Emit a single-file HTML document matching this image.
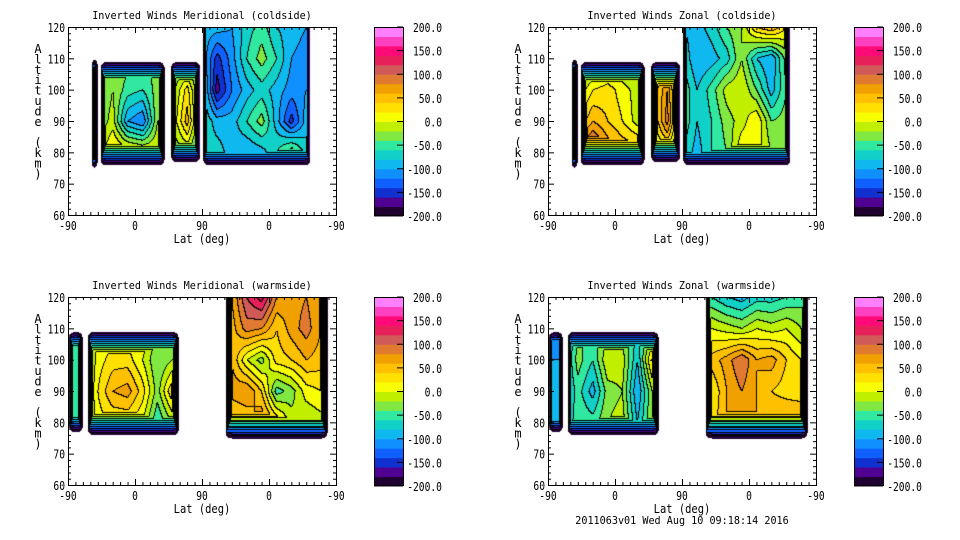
<!DOCTYPE html>
<html><head><meta charset="utf-8">
<style>
html,body{margin:0;padding:0;background:#fff;}
#root{position:relative;width:960px;height:540px;overflow:hidden;font-family:"DejaVu Sans Mono","Liberation Mono",monospace;}
canvas{position:absolute;}
svg{position:absolute;left:0;top:0;}
</style></head>
<body>
<div id="root">
<canvas id="c0" width="268" height="188" style="left:68px;top:27px"></canvas>
<canvas id="c1" width="268" height="188" style="left:548px;top:27px"></canvas>
<canvas id="c2" width="268" height="188" style="left:68px;top:297px"></canvas>
<canvas id="c3" width="268" height="188" style="left:548px;top:297px"></canvas>
<svg id="ov" width="960" height="540"></svg>
</div>
<script>
// ---- data ----
const titles = ["Inverted Winds Meridional (coldside)","Inverted Winds Zonal (coldside)","Inverted Winds Meridional (warmside)","Inverted Winds Zonal (warmside)"];
const altRows = [120,110,100,90,80,70];
const latCols = [0,20,40,60,80,100,120,140,160,180,200,220,240,260,280,300,320,340,360];
const xTickLabels = ["-90","0","90","0","-90"];
const yTickLabels = [60,70,80,90,100,110,120];
const cbLabels = [200,150,100,50,0,-50,-100,-150,-200];
const bandColors = ['#200030','#500090','#1030d0','#1060ff','#1090ff','#10b8f0','#10d0c8','#30e8a0','#80e840','#c0f000','#f8ff00','#ffe000','#ffc000','#f0a000','#e07a30','#d05a58','#e8205a','#ff0a78','#ff40c0','#ff7fff'];
const segsCold = [[31,39,110,75],[43,129,109,76],[138,177,109,77],[181,325,120,76]];
const segsWarm = [[1,19,109,77],[26,148,109,76],[211,348,120,75]];
const gridMerCold = [
 [-100,-100,-100,-100,-100,-100,-100,-100,-100,-90,-90,-100,-70,-50,-80,-90,-100,-100,-100],
 [-100,-80,-60,-30,-30,-30,-40,-60,-40,-80,-150,-110,-60,-30,-60,-100,-110,-100,-100],
 [-100,-80,-50,-20,-50,-60,-30,-30,30,-60,-170,-120,-90,-70,-90,-110,-100,-100,-100],
 [-100,-80,-40,-10,-100,-120,-20,-20,50,-60,-90,-90,-60,-30,-90,-150,-90,-100,-100],
 [-100,-80,-20,30,20,10,0,-40,-20,-70,-70,-90,-100,-90,-60,-20,-70,-100,-100],
 [-100,-80,-20,30,20,10,0,-40,-20,-70,-70,-90,-100,-90,-60,-20,-70,-100,-100]];
const gridZonCold = [
 [-100,-100,-100,-100,-100,-100,-100,-100,-100,-80,-90,-70,-40,-20,40,60,20,-40,-40],
 [-100,-80,-60,-40,-20,-30,-40,-20,20,-60,-100,-90,-70,-20,-80,-100,-30,-40,-40],
 [-100,-60,-20,20,30,10,-10,20,80,-40,-80,-50,-10,0,-40,-90,-40,-40,-40],
 [-100,-40,20,60,40,20,-10,10,90,-40,-80,-60,-30,-10,20,-40,-30,-40,-40],
 [-100,-20,80,130,80,60,60,-20,10,-60,-90,-60,-40,20,10,-20,-40,-40,-40],
 [-100,-20,80,130,80,60,60,-20,10,-60,-90,-60,-40,20,10,-20,-40,-40,-40]];
const gridMerWarm = [
 [-60,-60,0,10,0,20,-20,-60,-60,40,40,60,120,150,80,70,80,60,60],
 [-60,-60,0,10,0,20,-20,-60,-60,40,40,50,90,80,40,70,90,60,60],
 [-50,-50,10,30,30,0,-40,-20,-20,50,50,60,0,-30,30,40,60,50,50],
 [-50,-50,20,60,70,30,-30,40,40,60,60,70,80,40,-50,-30,10,20,20],
 [-50,-50,10,20,20,0,-60,-20,-20,30,30,30,40,80,40,-10,-20,-10,-10],
 [-50,-50,10,20,20,0,-60,-20,-20,30,30,30,40,80,40,-10,-20,-10,-10]];
const gridZonWarm = [
 [-110,-110,-40,-40,-30,-30,-60,-30,-60,-60,-60,-60,-80,-90,-70,-70,-60,-50,-50],
 [-110,-110,-40,-40,-30,-30,-60,-30,-30,0,0,0,-10,-20,0,-10,0,-20,-20],
 [-100,-100,-30,-60,0,-10,-80,30,30,50,50,50,70,100,60,70,40,20,20],
 [-100,-100,-50,-90,-30,-20,-100,-20,20,20,20,20,60,80,60,40,30,20,20],
 [-100,-100,-40,-50,-20,-10,-80,-20,30,30,30,30,60,80,60,60,70,80,80],
 [-100,-100,-40,-50,-20,-10,-80,-20,30,30,30,30,60,80,60,60,70,80,80]];
const panelGrids = [gridMerCold, gridZonCold, gridMerWarm, gridZonWarm];
const panelSegs = [segsCold, segsCold, segsWarm, segsWarm];

// ---- layout ----
const W=268,H=188;
const origins=[[68,27],[548,27],[68,297],[548,297]];
const sOfPx = px => px*360/W;
const altOfPy = py => 120 - py*60/H;
const yOfAlt = a => (120-a)*H/60;
function hex(c){return [parseInt(c.substr(1,2),16),parseInt(c.substr(3,2),16),parseInt(c.substr(5,2),16)];}
const rgb = bandColors.map(hex);

function interp(grid,s,alt){
  let j=s/20, i=(120-alt)/10;
  j=Math.max(0,Math.min(latCols.length-1.0001,j)); i=Math.max(0,Math.min(altRows.length-1.0001,i));
  const j0=Math.floor(j), i0=Math.floor(i), fj=j-j0, fi=i-i0;
  const a=grid[i0][j0], b=grid[i0][j0+1], c=grid[i0+1][j0], d=grid[i0+1][j0+1];
  return (a*(1-fj)+b*fj)*(1-fi)+(c*(1-fj)+d*fj)*fi;
}
for(let p=0;p<4;p++){
  const cv=document.getElementById('c'+p), ctx=cv.getContext('2d');
  const img=ctx.createImageData(W,H);
  const band=new Int16Array(W*H).fill(-1);
  const grid=panelGrids[p], segs=panelSegs[p];
  for(let py=0;py<H;py++){
    const alt=altOfPy(py);
    for(let px=0;px<W;px++){
      const s=sOfPx(px);
      let seg=null;
      for(const g of segs){ if(s>=g[0]&&s<=g[1]&&alt<=g[2]&&alt>=g[3]){seg=g;break;} }
      if(!seg) continue;
      const ds=Math.min((s-seg[0])*W/360,(seg[1]-s)*W/360);
      let dv=(alt-seg[3])*H/60;
      if(seg[2]<120) dv=Math.min(dv,(seg[2]-alt)*H/60);
      let v=interp(grid,s,alt);
      v=Math.min(v,-200+35*ds,-200+10*dv);
      const R=6, cs=R-ds, cvv=R-dv;
      if(cs>0&&cvv>0){
        const corner=Math.sqrt(cs*cs+cvv*cvv);
        if(corner>R) continue;
        v=Math.min(v,-200+10*(R-corner));
      }
      let b=Math.floor((v+200)/20); b=Math.max(0,Math.min(19,b));
      band[py*W+px]=b;
    }
  }
  for(let py=0;py<H;py++)for(let px=0;px<W;px++){
    const k=py*W+px,b=band[k]; if(b<0) continue;
    let line=false;
    if(px+1<W&&band[k+1]>=0&&band[k+1]!==b) line=true;
    if(py+1<H&&band[k+W]>=0&&band[k+W]!==b) line=true;
    const c=line?[0,0,0]:rgb[b];
    img.data[k*4]=c[0];img.data[k*4+1]=c[1];img.data[k*4+2]=c[2];img.data[k*4+3]=255;
  }
  ctx.putImageData(img,0,0);
}

// ---- axes ----
const NS='http://www.w3.org/2000/svg', ov=document.getElementById('ov');
function el(tag,attrs,parent){const e=document.createElementNS(NS,tag);for(const k in attrs)e.setAttribute(k,attrs[k]);(parent||ov).appendChild(e);return e;}
const fam='"DejaVu Sans Mono","Liberation Mono",monospace';
const CW=5.8;
const panelNames=['meridional-coldside','zonal-coldside','meridional-warmside','zonal-warmside'];
for(let p=0;p<4;p++){
  const [ox,oy]=origins[p];
  const g=el('g',{});
  
  
  const fr=el('rect',{x:ox+0.5,y:oy+0.5,width:W,height:H,fill:'none',stroke:'#000','stroke-width':1},g);
  
  
  for(let i=0;i<=36;i++){
    const x=ox+0.5+i*W/36, len=(i%9===0)?6:3;
    el('line',{x1:x,y1:oy+H,x2:x,y2:oy+H-len,stroke:'#000'},g);
    el('line',{x1:x,y1:oy,x2:x,y2:oy+len,stroke:'#000'},g);
  }
  xTickLabels.forEach((t,i)=>{
    const tx=el('text',{x:ox+i*W/4,y:oy+H+15,'text-anchor':'middle','font-size':12,'font-family':fam,textLength:t.length*CW,lengthAdjust:'spacingAndGlyphs'},g);
    tx.textContent=t;
    
    
  });
  for(let a=60;a<=120;a+=2){
    const y=oy+0.5+yOfAlt(a), len=(a%10===0)?6:3;
    el('line',{x1:ox,y1:y,x2:ox+len,y2:y,stroke:'#000'},g);
    el('line',{x1:ox+W,y1:y,x2:ox+W-len,y2:y,stroke:'#000'},g);
  }
  yTickLabels.forEach(a=>{
    const t=String(a);
    const tx=el('text',{x:ox-3,y:oy+yOfAlt(a)+5,'text-anchor':'end','font-size':12,'font-family':fam,textLength:t.length*CW,lengthAdjust:'spacingAndGlyphs'},g);
    tx.textContent=t;
    
    
  });
  const tt=el('text',{x:ox+W/2,y:oy-8,'text-anchor':'middle','font-size':11,'font-family':fam,textLength:titles[p].length*6.1,lengthAdjust:'spacingAndGlyphs'},g);
  tt.textContent=titles[p];
  
  
  const xl=el('text',{x:ox+W/2,y:oy+H+28,'text-anchor':'middle','font-size':12,'font-family':fam,textLength:9*6.3,lengthAdjust:'spacingAndGlyphs'},g);
  xl.textContent='Lat (deg)';
  
  
  const yl=el('text',{x:ox-30,y:oy+22,'font-size':12,'font-family':fam,'text-anchor':'middle'},g);
  
  
  const yt='Altitude (km)';
  for(let i=0;i<yt.length;i++){
    const ts=el('tspan',{x:ox-30,y:oy+26+i*10.4},yl);
    ts.textContent=yt[i];
  }
  const cx=ox+306, cy=oy, cw=29, ch=189;
  const cb=el('g',{},g);
  
  
  bandColors.forEach((c,i)=>{
    el('rect',{x:cx,y:cy+ch-(i+1)*ch/20,width:cw,height:ch/20+0.5,fill:c},cb);
  });
  el('rect',{x:cx+0.5,y:cy+0.5,width:cw,height:ch-1,fill:'none',stroke:'#000'},cb);
  cbLabels.forEach(v=>{
    const y=cy+(200-v)/400*ch;
    el('line',{x1:cx+cw-6,y1:y,x2:cx+cw,y2:y,stroke:'#000'},cb);
    const t=v.toFixed(1);
    const tx=el('text',{x:cx+68,y:y+5,'text-anchor':'end','font-size':12,'font-family':fam,textLength:t.length*CW,lengthAdjust:'spacingAndGlyphs'},cb);
    tx.textContent=t;
    
    
  });
}
const ftxt='2011063v01 Wed Aug 10 09:18:14 2016';
const ft=el('text',{x:682,y:524,'text-anchor':'middle','font-size':11,'font-family':fam,textLength:ftxt.length*6.1,lengthAdjust:'spacingAndGlyphs'});
ft.textContent=ftxt;


</script>
</body></html>
